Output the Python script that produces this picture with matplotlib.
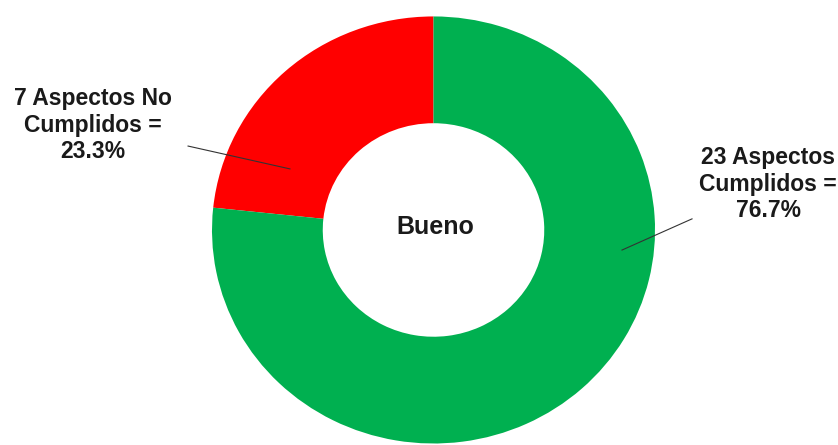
import matplotlib
matplotlib.use('Agg')
import matplotlib.pyplot as plt

# Datos del grafico
categorias = ['Aspectos No Cumplidos', 'Aspectos Cumplidos']
cantidades = [7, 23]
colores = ['#FF0000', '#00B050']
texto_centro = 'Bueno'

total = sum(cantidades)
porcentajes = [100.0 * c / total for c in cantidades]

fig = plt.figure(figsize=(8.38, 4.45), dpi=100)
ax = fig.add_axes([0, 0, 1, 1])

ax.pie(cantidades, colors=colores, startangle=90, counterclock=True,
       radius=1.0, wedgeprops=dict(width=0.5, edgecolor='none'))

# el anillo es un poco mas ancho que alto, por eso aspecto libre
ax.set_aspect('auto')
ax.set_xlim(-1.957, 1.826)
ax.set_ylim(-1.007, 1.077)
ax.axis('off')

fuente = dict(family=['Liberation Sans', 'DejaVu Sans'], fontsize=16.5,
              fontweight='bold', color='#1a1a1a', ha='center', va='center',
              linespacing=1.2)

# etiqueta de los no cumplidos
etiqueta_no = '%d Aspectos No\nCumplidos =\n%.1f%%' % (cantidades[0], porcentajes[0])
ax.text(-1.537, 0.49, etiqueta_no, **fuente)
ax.plot([-1.108, -0.648], [0.393, 0.286], color='#333333', lw=0.8)

# etiqueta de los cumplidos
etiqueta_si = '%d Aspectos\nCumplidos =\n%.1f%%' % (cantidades[1], porcentajes[1])
ax.text(1.51, 0.215, etiqueta_si, **fuente)
ax.plot([1.167, 0.851], [0.052, -0.094], color='#333333', lw=0.8)

fuente_centro = dict(fuente, fontsize=18)
ax.text(0.007, 0.014, texto_centro, **fuente_centro)

fig.savefig('out.png', dpi=100, facecolor='white')
